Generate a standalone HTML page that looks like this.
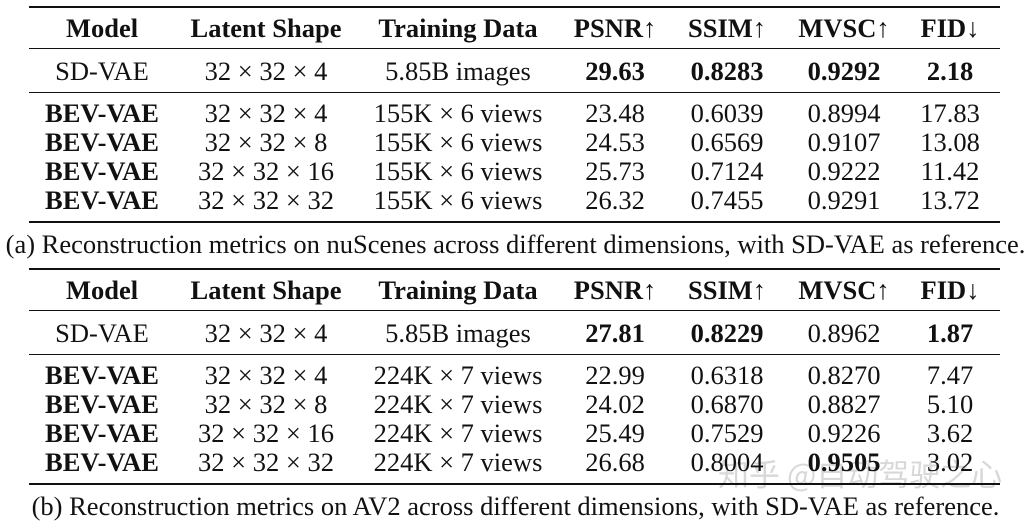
<!DOCTYPE html>
<html><head><meta charset="utf-8"><style>
body{margin:0;width:1031px;height:522px;background:#fff;position:relative;overflow:hidden;font-family:"Liberation Serif",serif;color:#111}
.c{position:absolute;transform:translate(-50%,-50%);white-space:nowrap;font-size:26.5px;line-height:1}
.b{font-weight:bold}
.r{position:absolute;left:29px;width:971px;background:#111}
.cap{position:absolute;left:0;width:1031px;text-align:center;font-size:26.5px;line-height:1;white-space:nowrap;transform:translateY(-50%)}
.wm{position:absolute;left:718px;top:450px;font-family:"Noto Sans CJK SC",sans-serif;font-size:31px;color:rgba(200,200,200,0.7);white-space:nowrap}
</style></head><body>
<div class="wm">知乎 @自动驾驶之心</div>
<script>
const cols=[102,266,458,615,727,844,950];
const header=["Model","Latent Shape","Training Data","PSNR↑","SSIM↑","MVSC↑","FID↓"];
const t1=[["SD-VAE","32 × 32 × 4","5.85B images","29.63","0.8283","0.9292","2.18"],
["BEV-VAE","32 × 32 × 4","155K × 6 views","23.48","0.6039","0.8994","17.83"],
["BEV-VAE","32 × 32 × 8","155K × 6 views","24.53","0.6569","0.9107","13.08"],
["BEV-VAE","32 × 32 × 16","155K × 6 views","25.73","0.7124","0.9222","11.42"],
["BEV-VAE","32 × 32 × 32","155K × 6 views","26.32","0.7455","0.9291","13.72"]];
const b1=[[0,3],[0,4],[0,5],[0,6]];
const t2=[["SD-VAE","32 × 32 × 4","5.85B images","27.81","0.8229","0.8962","1.87"],
["BEV-VAE","32 × 32 × 4","224K × 7 views","22.99","0.6318","0.8270","7.47"],
["BEV-VAE","32 × 32 × 8","224K × 7 views","24.02","0.6870","0.8827","5.10"],
["BEV-VAE","32 × 32 × 16","224K × 7 views","25.49","0.7529","0.9226","3.62"],
["BEV-VAE","32 × 32 × 32","224K × 7 views","26.68","0.8004","0.9505","3.02"]];
const b2=[[0,3],[0,4],[0,6],[4,5]];
const root=document.body;
function add(cls,txt,x,y,name){const d=document.createElement('div');d.className=cls;d.textContent=txt;d.style.left=x+'px';d.style.top=y+'px';


root.appendChild(d);return d;}
function rule(y,h,name){const d=document.createElement('div');d.className='r';d.style.top=y+'px';d.style.height=h+'px';


root.appendChild(d);}
function table(top,rows,bold,tag,cap){
rule(top,2,tag+'-top-rule');
header.forEach((h,i)=>add('c b',h,cols[i],top+22,tag+'-header-'+i));
rule(top+42,1,tag+'-header-rule');
const ys=[top+65,top+107,top+136,top+165,top+194];
rule(top+86,1,tag+'-mid-rule');
rows.forEach((r,ri)=>r.forEach((v,ci)=>{
let isB=(ci===0&&ri>0)||bold.some(b=>b[0]===ri&&b[1]===ci);
add('c'+(isB?' b':''),v,cols[ci],ys[ri],tag+'-cell-r'+ri+'-c'+ci);}));
rule(top+215,2,tag+'-bottom-rule');
const c=add('cap',cap,0,top+238,tag+'-caption');c.style.left='0px';
}
table(6,t1,b1,'table-a','(a) Reconstruction metrics on nuScenes across different dimensions, with SD-VAE as reference.');
table(268,t2,b2,'table-b','(b) Reconstruction metrics on AV2 across different dimensions, with SD-VAE as reference.');
</script>
</body></html>
